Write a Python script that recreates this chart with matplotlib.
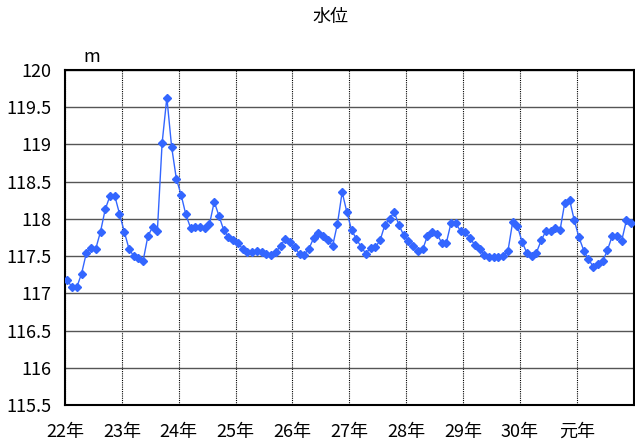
import matplotlib
matplotlib.use("Agg")
import matplotlib.pyplot as plt
import numpy as np

plt.rcParams['font.family'] = ['Noto Sans CJK JP', 'DejaVu Sans']

# monthly water level (m), 22年 .. 元年
level = [
    117.175, 117.08, 117.085, 117.265, 117.54, 117.61, 117.60, 117.83, 118.13, 118.31, 118.31, 118.07,
    117.83, 117.60, 117.50, 117.48, 117.44, 117.77, 117.89, 117.84, 119.02, 119.63, 118.97, 118.54,
    118.325, 118.06, 117.88, 117.89, 117.89, 117.876, 117.93, 118.23, 118.04, 117.85, 117.755, 117.71,
    117.67, 117.60, 117.56, 117.56, 117.575, 117.56, 117.53, 117.51, 117.55, 117.64, 117.73, 117.69,
    117.616, 117.527, 117.52, 117.60, 117.745, 117.81, 117.77, 117.71, 117.64, 117.93, 118.36, 118.09,
    117.85, 117.73, 117.625, 117.535, 117.61, 117.62, 117.71, 117.915, 118.0, 118.09, 117.915, 117.78,
    117.705, 117.63, 117.57, 117.59, 117.77, 117.83, 117.80, 117.68, 117.68, 117.95, 117.94, 117.835,
    117.82, 117.74, 117.65, 117.59, 117.52, 117.49, 117.49, 117.49, 117.50, 117.57, 117.96, 117.90,
    117.69, 117.54, 117.50, 117.545, 117.71, 117.835, 117.84, 117.88, 117.85, 118.22, 118.26, 117.98,
    117.75, 117.575, 117.455, 117.36, 117.39, 117.43, 117.58, 117.77, 117.77, 117.705, 117.98, 117.95,
]
years = ['22年', '23年', '24年', '25年', '26年', '27年', '28年', '29年', '30年', '元年']
yticks = [115.5, 116, 116.5, 117, 117.5, 118, 118.5, 119, 119.5, 120]

fig = plt.figure(figsize=(6.35, 4.43), dpi=100)
ax = fig.add_axes([65/635, 1-405/443, 568.5/635, 335/443])

x = np.arange(len(level)) + 0.5
ax.plot(x, level, color='#3366FF', lw=1, marker='D', markersize=4.5, zorder=3)

ax.set_xlim(0, 120)
ax.set_ylim(115.5, 120)
ax.set_xticks(np.arange(0, 120, 12))
ax.set_xticklabels(years, fontsize=13, va='baseline')
ax.set_yticks(yticks)
ax.set_yticklabels([f'{v:g}' for v in yticks], fontsize=13)
ax.tick_params(length=0)
ax.tick_params(axis='x', pad=23)
ax.tick_params(axis='y', pad=9.5)

ax.grid(axis='y', color='#555555', lw=1)
ax.grid(axis='x', color='black', lw=0.8, linestyle=(0, (1, 1)))
for s in ax.spines.values():
    s.set_linewidth(1.5)

fig.text(330/635, 1-17/443, '水位', ha='center', va='center', fontsize=13)
fig.text(92/635, 1-57/443, 'm', ha='center', va='center', fontsize=13)

fig.savefig('out.png', dpi=100)
